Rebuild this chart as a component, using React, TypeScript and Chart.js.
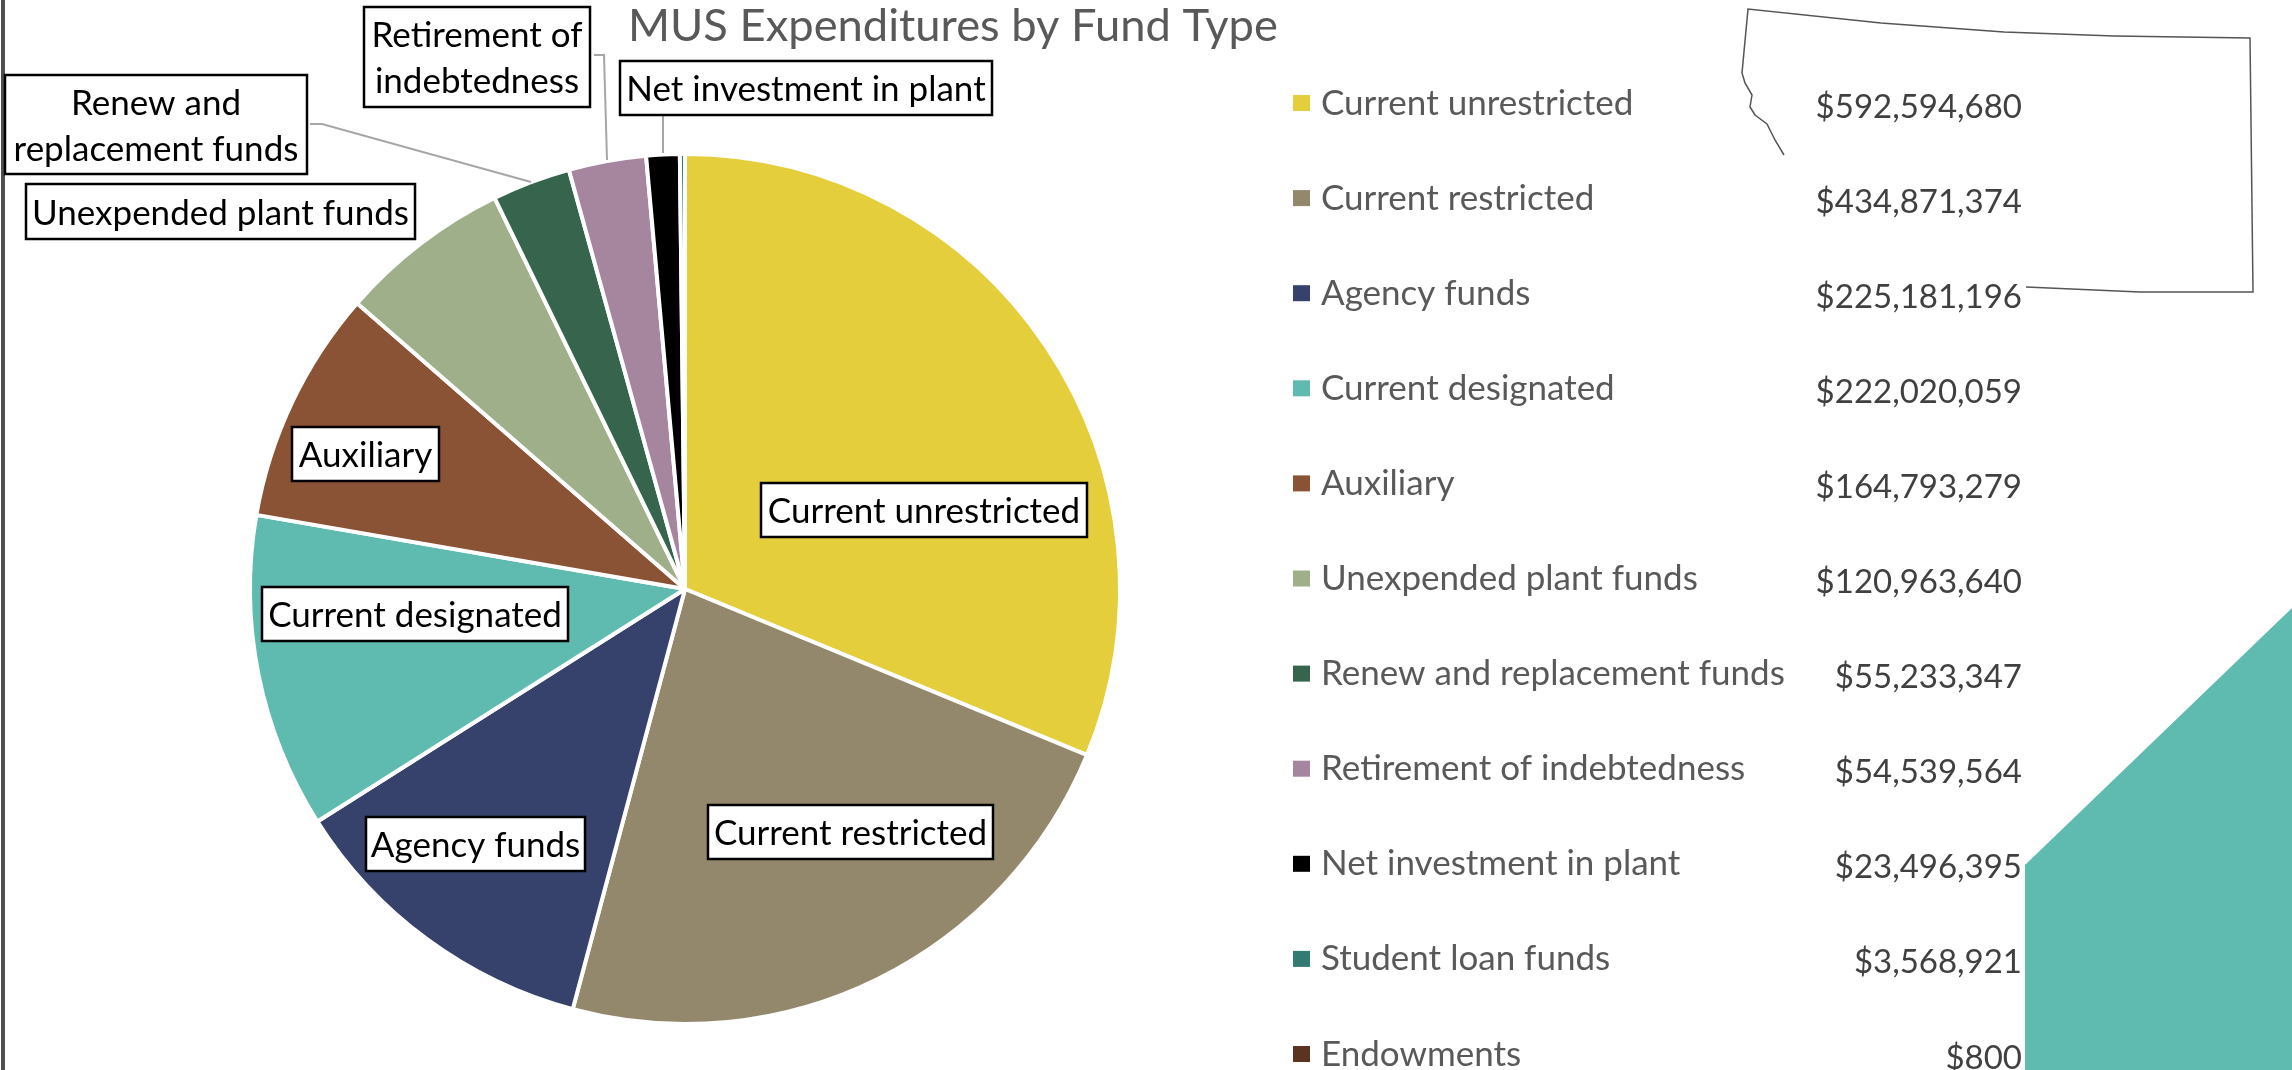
import React, { useEffect, useRef } from "react";
import { Chart, registerables } from "chart.js";

Chart.register(...registerables);

const categories = ["Current unrestricted","Current restricted","Agency funds","Current designated","Auxiliary","Unexpended plant funds","Renew and replacement funds","Retirement of indebtedness","Net investment in plant","Student loan funds","Endowments"];
const values = [592594680,434871374,225181196,222020059,164793279,120963640,55233347,54539564,23496395,3568921,800];
const valueLabels = ["$592,594,680","$434,871,374","$225,181,196","$222,020,059","$164,793,279","$120,963,640","$55,233,347","$54,539,564","$23,496,395","$3,568,921","$800"];
const colors = ["#E4CE3B","#94886C","#37426C","#5FBBB0","#8B5335","#9EAF89","#36644D","#A6869F","#000000","#337A72","#5A3420"];
const titleText = "MUS Expenditures by Fund Type";

// callout boxes: [x0, y0, x1, y1, lines]
const callouts: [number, number, number, number, string[]][] = [
  [761, 483, 1087, 537, ["Current unrestricted"]],
  [708, 805, 993, 859, ["Current restricted"]],
  [366, 817, 585, 871, ["Agency funds"]],
  [262, 587, 568, 641, ["Current designated"]],
  [292, 427, 439, 481, ["Auxiliary"]],
  [26, 184, 415, 239, ["Unexpended plant funds"]],
  [5, 75, 307, 174, ["Renew and", "replacement funds"]],
  [364, 7, 590, 107, ["Retirement of", "indebtedness"]],
  [620, 61, 992, 115, ["Net investment in plant"]],
];
const leaders: [number, number][][] = [
  [[310, 124], [322, 124], [531, 182]],
  [[594, 55], [604, 55], [607, 160]],
  [[663, 115], [663, 153]],
];
const outline: [number, number][] = [[2026,287],[2140,292],[2253,292],[2250,38],[2114,36],[2004,32],[1881,23],[1748,9],[1742,73],[1745,83],[1752,95],[1750,107],[1755,115],[1767,124],[1775,140],[1784,155]];
const wedge: [number, number][] = [[2292,608],[2025,865],[2025,1070],[2292,1070]];

const FONT = "Lato";

const overlay = {
  id: "overlay",
  beforeDraw(chart: any) {
    const c = chart.ctx;
    c.save();
    c.fillStyle = "#4f4f4f";
    c.fillRect(1, 0, 4, 1070);
    c.fillStyle = "#5FBBB0";
    c.beginPath();
    wedge.forEach(([x, y], i) => (i ? c.lineTo(x, y) : c.moveTo(x, y)));
    c.closePath();
    c.fill();
    c.strokeStyle = "#555555";
    c.lineWidth = 1.5;
    c.beginPath();
    outline.forEach(([x, y], i) => (i ? c.lineTo(x, y) : c.moveTo(x, y)));
    c.stroke();
    c.restore();
  },
  afterDraw(chart: any) {
    const c = chart.ctx;
    c.save();
    c.textBaseline = "alphabetic";
    // title
    c.font = `45.3px ${FONT}`;
    c.fillStyle = "#595959";
    c.textAlign = "left";
    c.fillText(titleText, 628, 41);
    // leaders
    c.strokeStyle = "#A6A6A6";
    c.lineWidth = 2;
    leaders.forEach((l) => {
      c.beginPath();
      l.forEach(([x, y], i) => (i ? c.lineTo(x, y) : c.moveTo(x, y)));
      c.stroke();
    });
    // callouts
    callouts.forEach(([x0, y0, x1, y1, lines]) => {
      c.fillStyle = "#ffffff";
      c.fillRect(x0, y0, x1 - x0, y1 - y0);
      c.strokeStyle = "#000000";
      c.lineWidth = 2.5;
      c.strokeRect(x0, y0, x1 - x0, y1 - y0);
      c.fillStyle = "#000000";
      c.textAlign = "center";
      c.font = `35px ${FONT}`;
      const mid = (y0 + y1) / 2;
      const step = 46;
      lines.forEach((t, i) => {
        c.fillText(t, (x0 + x1) / 2, mid + 13 + (i - (lines.length - 1) / 2) * step);
      });
    });
    // legend table
    categories.forEach((name, i) => {
      const y = 103 + i * 95.1;
      c.fillStyle = colors[i];
      c.fillRect(1293, y - 8, 17, 16);
      c.fillStyle = "#595959";
      c.textAlign = "left";
      c.font = `35px ${FONT}`;
      c.fillText(name, 1321, y + 11.5);
      c.fillStyle = "#404040";
      c.textAlign = "right";
      c.font = `33px ${FONT}`;
      c.fillText(valueLabels[i], 2022, y + 14.5);
    });
    c.restore();
  },
};

export default function App() {
  const ref = useRef<HTMLCanvasElement>(null);
  useEffect(() => {
    document.body.style.margin = "0";
    const chart = new Chart(ref.current!, {
      type: "pie",
      data: {
        labels: categories,
        datasets: [{ data: values, backgroundColor: colors, borderColor: "#ffffff", borderWidth: 4 }],
      },
      options: {
        animation: false,
        responsive: false,
        devicePixelRatio: 1,
        layout: { padding: { left: 248, right: 1170, top: 152, bottom: 44 } },
        plugins: { legend: { display: false }, tooltip: { enabled: false }, title: { display: false } },
      },
      plugins: [overlay],
    });
    return () => chart.destroy();
  }, []);
  return <canvas ref={ref} width={2292} height={1070} style={{ display: "block", background: "#fff" }} />;
}
